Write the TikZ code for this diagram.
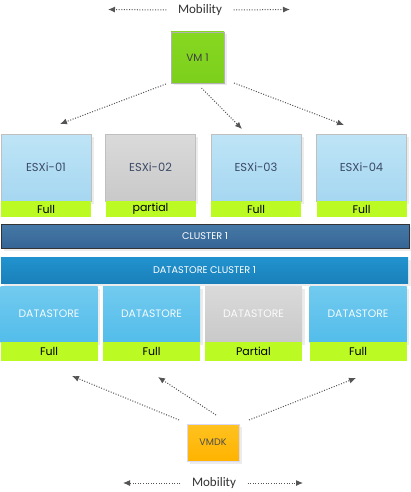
\documentclass[tikz,border=0pt]{standalone}
\usepackage{fontspec}
\setmainfont{Poppins}
\newfontfamily\mobfont{Carlito}
\usetikzlibrary{arrows.meta,shadows}
\definecolor{esxTop}{HTML}{BEE4F6}
\definecolor{esxBot}{HTML}{A6D7F1}
\definecolor{grayTop}{HTML}{DADADA}
\definecolor{grayBot}{HTML}{C9C9C9}
\definecolor{dsTop}{HTML}{72CAEF}
\definecolor{dsBot}{HTML}{53BDEA}
\definecolor{clTop}{HTML}{4679A7}
\definecolor{clBot}{HTML}{366595}
\definecolor{dcTop}{HTML}{2193CF}
\definecolor{dcBot}{HTML}{1A80BA}
\definecolor{band}{HTML}{BBFA22}
\definecolor{vmTop}{HTML}{86D820}
\definecolor{vmBot}{HTML}{7CCF1C}
\definecolor{vmdkTop}{HTML}{FFC220}
\definecolor{vmdkBot}{HTML}{FFB300}
\definecolor{esxText}{HTML}{3C4A66}
\definecolor{arrowGray}{HTML}{555555}
\begin{document}
\begin{tikzpicture}[x=1pt,y=-1pt,
  base/.style={rectangle,inner sep=0pt,outer sep=0pt},
  shad/.style={drop shadow={opacity=0.15,shadow xshift=2.5pt,shadow yshift=-2.5pt}},
  esxbox/.style={base,shad,minimum width=90pt,minimum height=67pt,draw=black!25,line width=0.6pt,
    top color=esxTop,bottom color=esxBot,text=esxText,font=\fontsize{11.5}{11.5}\selectfont},
  esxgray/.style={esxbox,top color=grayTop,bottom color=grayBot},
  bandbox/.style={base,fill=band,text=black,font=\fontsize{11}{11}\selectfont},
  dsbox/.style={base,shad,minimum width=97pt,minimum height=56pt,top color=dsTop,bottom color=dsBot,
    text=white!92!dsTop,font=\fontsize{10.8}{10.8}\selectfont},
  dsgray/.style={dsbox,top color=grayTop,bottom color=grayBot,text=white!90!grayTop},
  bar/.style={base,shad,text=white,font=\fontsize{9.7}{9.7}\selectfont},
  mob/.style={font=\mobfont\fontsize{13}{13}\selectfont,text=black!80},
  arr/.style={line width=1pt,dash pattern=on 1pt off 1.6pt,draw=arrowGray,-{Latex[length=7pt,width=6pt]}}
]
\useasboundingbox (0,0) rectangle (410,492);
\fill[white] (0,0) rectangle (410,492);

% top mobility
\node[mob] (mobtop) at (200,10) {Mobility};
\coordinate (mtl) at (108,9.5);
\coordinate (mtr) at (290,9.5);
\draw[arr] ([xshift=-8pt]mobtop.west) -- (mtl);
\draw[arr] ([xshift=8pt]mobtop.east) -- (mtr);

% VM 1
\node[base,shad,minimum width=53pt,minimum height=51pt,draw=black!30,line width=0.8pt,
  top color=vmTop,bottom color=vmBot,text=black!75,font=\fontsize{10.5}{10.5}\selectfont] (vm) at (197.5,57.5) {VM 1};

% ESXi hosts
\node[esxbox] (e1) at (46,167.5) {ESXi-01};
\node[esxgray] (e2) at (150.5,167.5) {ESXi-02};
\node[esxbox] (e3) at (256,167.5) {ESXi-03};
\node[esxbox] (e4) at (361.5,167.5) {ESXi-04};
\node[bandbox,minimum width=90pt,minimum height=16pt] (b1) at (46,209) {Full};
\node[bandbox,minimum width=90pt,minimum height=16pt] (b2) at (150.5,209) {partial};
\node[bandbox,minimum width=90pt,minimum height=16pt] (b3) at (256,209) {Full};
\node[bandbox,minimum width=90pt,minimum height=16pt] (b4) at (361.5,209) {Full};

% arrows from VM
\coordinate (va1) at (60,124);
\coordinate (va3) at (242,129);
\coordinate (va4) at (344,125);
\draw[arr] ([xshift=-5pt,yshift=-1pt]vm.south west) -- (va1);
\draw[arr] ([xshift=4pt,yshift=-5pt]vm.south) -- (va3);
\draw[arr] ([xshift=10pt,yshift=0pt]vm.south east) -- (va4);

% clusters
\node[bar,minimum width=408pt,minimum height=24pt,draw=black!80,line width=1pt,top color=clTop,bottom color=clBot] (cl) at (205,236) {CLUSTER 1};
\node[bar,minimum width=407pt,minimum height=26pt,top color=dcTop,bottom color=dcBot] (dc) at (204.5,270) {DATASTORE CLUSTER 1};

% datastores
\node[dsbox] (d1) at (49,314) {DATASTORE};
\node[dsbox] (d2) at (151.5,314) {DATASTORE};
\node[dsgray] (d3) at (253.5,314) {DATASTORE};
\node[dsbox] (d4) at (358,314) {DATASTORE};
\node[bandbox,minimum width=97pt,minimum height=19pt] (c1) at (49,351.5) {Full};
\node[bandbox,minimum width=97pt,minimum height=19pt] (c2) at (151.5,351.5) {Full};
\node[bandbox,minimum width=97pt,minimum height=19pt] (c3) at (253.5,351.5) {Partial};
\node[bandbox,minimum width=97pt,minimum height=19pt] (c4) at (358,351.5) {Full};

% VMDK
\node[base,shad,minimum width=52pt,minimum height=37pt,draw=black!20!blue!15,line width=0.8pt,
  top color=vmdkTop,bottom color=vmdkBot,text=black!70,font=\fontsize{9.5}{9.5}\selectfont] (vmdk) at (213,442.5) {VMDK};
\coordinate (ka1) at (72,376);
\coordinate (ka2) at (158,377);
\coordinate (ka4) at (356,378);
\draw[arr] ([xshift=-8pt,yshift=4pt]vmdk.north west) -- (ka1);
\draw[arr] ([xshift=3pt,yshift=9pt]vmdk.north) -- (ka2);
\draw[arr] ([xshift=10pt,yshift=4pt]vmdk.north east) -- (ka4);

% bottom mobility
\node[mob] (mobbot) at (214,483) {Mobility};
\coordinate (mbl) at (123,483);
\coordinate (mbr) at (303,483);
\draw[arr] ([xshift=-8pt]mobbot.west) -- (mbl);
\draw[arr] ([xshift=8pt]mobbot.east) -- (mbr);
\end{tikzpicture}
\end{document}
